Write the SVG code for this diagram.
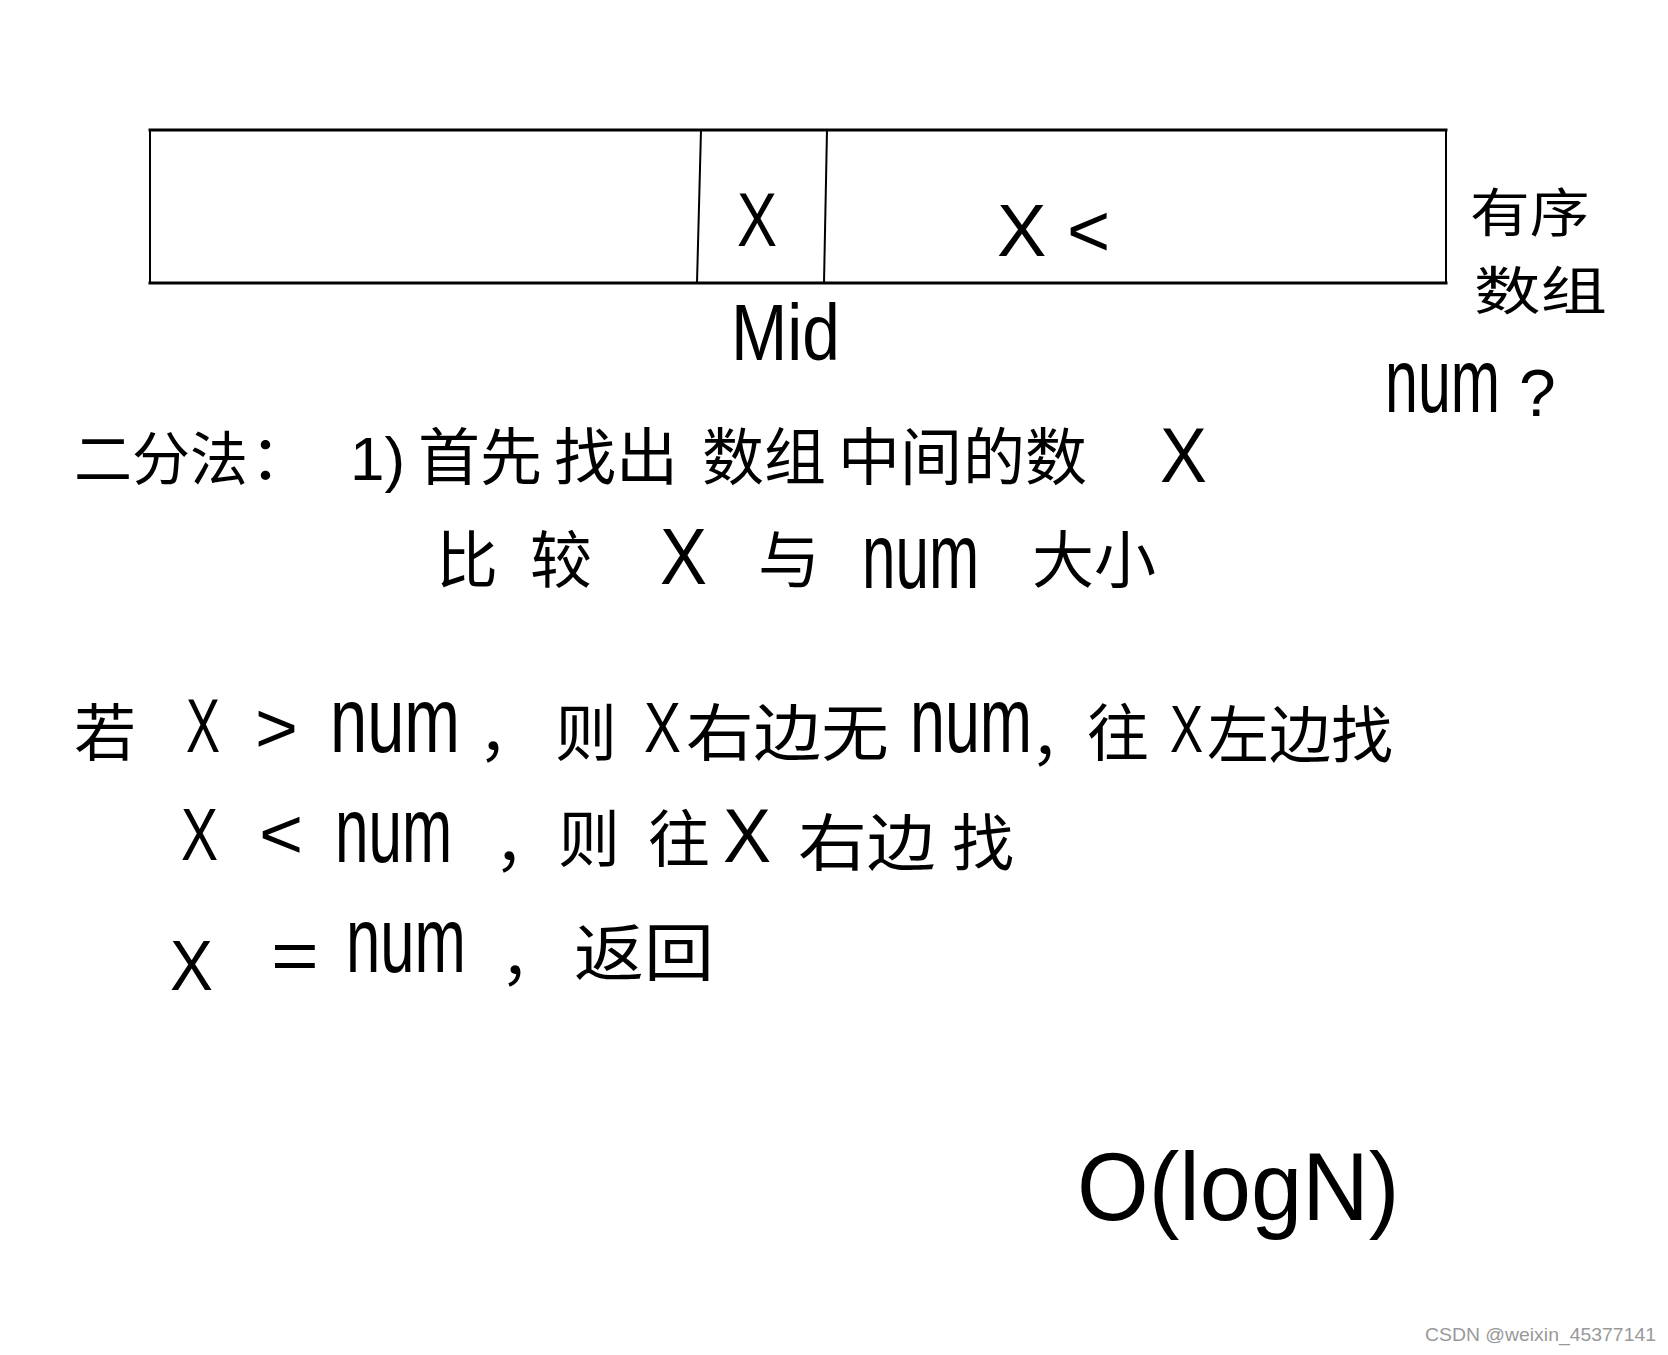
<svg xmlns="http://www.w3.org/2000/svg" width="1668" height="1355" viewBox="0 0 1668 1355">
<style>
.h{font-family:"Liberation Sans","Noto Sans CJK SC",sans-serif;fill:#000;}
.c{font-family:"Noto Sans CJK SC","Liberation Sans",sans-serif;fill:#000;font-size:62px;}
.ln{stroke:#000;fill:none;stroke-linecap:square;}
</style>
<rect x="0" y="0" width="1668" height="1355" fill="#fff"/>
<g id="array">
<line class="ln" x1="150" y1="130" x2="1446" y2="130" stroke-width="3"/>
<line class="ln" x1="150" y1="283" x2="1446" y2="283" stroke-width="3"/>
<line class="ln" x1="150" y1="130" x2="150" y2="283" stroke-width="2"/>
<line class="ln" x1="1446" y1="130" x2="1446" y2="283" stroke-width="2"/>
<line class="ln" x1="701" y1="130" x2="697" y2="283" stroke-width="2"/>
<line class="ln" x1="827" y1="130" x2="824" y2="283" stroke-width="2"/>
<text class="h" transform="translate(737,246) scale(0.79,1)" font-size="76">X</text>
<text class="h" x="997" y="256" font-size="74">X &lt;</text>
</g>
<g id="labels">
<text class="c" transform="translate(1470,232) scale(1.15,1)" font-size="52" style="font-size:52px">有序</text>
<text class="c" transform="translate(1474,310) scale(1.28,1)" font-size="52" style="font-size:52px">数组</text>
<text class="h" transform="translate(731,360) scale(0.845,1)" font-size="80">Mid</text>
<text class="h" transform="translate(1385,412) scale(0.657,1)" font-size="90">num</text>
<text class="h" x="1519" y="416" font-size="66">?</text>
</g>
<g id="line1">
<text class="c" x="74" y="480" style="font-size:58px">二分法</text>
<text class="c" y="480"><tspan x="250">：</tspan><tspan x="350" font-family="Liberation Sans">1)</tspan><tspan x="418">首先</tspan><tspan x="554">找出</tspan><tspan x="702">数组</tspan><tspan x="838">中间</tspan><tspan x="963">的数</tspan></text>
<text class="h" transform="translate(1160,482) scale(0.9,1)" font-size="78">X</text>
</g>
<g id="line2">
<text class="c" y="583"><tspan x="436">比</tspan><tspan x="530">较</tspan></text>
<text class="h" transform="translate(660,584) scale(0.88,1)" font-size="80">X</text>
<text class="c" x="758" y="583">与</text>
<text class="h" transform="translate(862,588) scale(0.654,1)" font-size="92">num</text>
<text class="c" x="1032" y="583">大小</text>
</g>
<g id="line3">
<text class="c" x="74" y="756">若</text>
<text class="h" transform="translate(186,752) scale(0.67,1)" font-size="76">X</text>
<text class="h" transform="translate(255,752) scale(1.05,1)" font-size="70">&gt;</text>
<text class="h" transform="translate(330,752) scale(0.727,1)" font-size="92">num</text>
<text class="c" x="478" y="756">，</text>
<text class="c" x="555" y="756">则</text>
<text class="h" transform="translate(644,752) scale(0.79,1)" font-size="70">X</text>
<text class="c" transform="translate(686,756) scale(1.09,1)">右边无</text>
<text class="h" transform="translate(910,752) scale(0.682,1)" font-size="92">num</text>
<text class="c" x="1030" y="760">，</text>
<text class="c" x="1087" y="756">往</text>
<text class="h" transform="translate(1170,752) scale(0.75,1)" font-size="66">X</text>
<text class="c" x="1207" y="758">左边找</text>
</g>
<g id="line4">
<text class="h" transform="translate(181,860) scale(0.75,1)" font-size="74">X</text>
<text class="h" transform="translate(259,858) scale(1.08,1)" font-size="70">&lt;</text>
<text class="h" transform="translate(335,862) scale(0.654,1)" font-size="92">num</text>
<text class="c" x="494" y="866">，</text>
<text class="c" x="558" y="862">则</text>
<text class="c" x="648" y="862">往</text>
<text class="h" transform="translate(723,862) scale(0.95,1)" font-size="76">X</text>
<text class="c" transform="translate(798,866) scale(1.11,1)">右边</text>
<text class="c" x="952" y="866">找</text>
</g>
<g id="line5">
<text class="h" transform="translate(170,990) scale(0.92,1)" font-size="70">X</text>
<text class="h" transform="translate(271,980) scale(1.17,1)" font-size="70">=</text>
<text class="h" transform="translate(346,972) scale(0.67,1)" font-size="92">num</text>
<text class="c" x="500" y="980">，</text>
<text class="c" transform="translate(574,976) scale(1.13,1)">返回</text>
</g>
<g id="complexity">
<text class="h" transform="translate(1077,1220) scale(0.95,1)" font-size="97">O(logN)</text>
</g>
<text x="1425" y="1341" font-family="Liberation Sans, sans-serif" font-size="18" fill="#999" textLength="231" lengthAdjust="spacingAndGlyphs">CSDN @weixin_45377141</text>
</svg>
